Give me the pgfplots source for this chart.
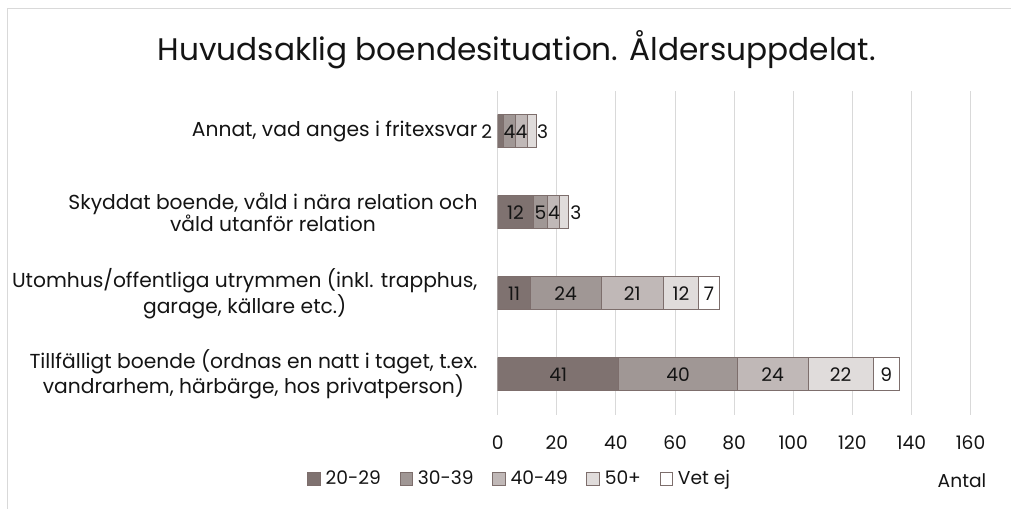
\documentclass[border=0pt]{standalone}
\usepackage{fontspec}
\setmainfont{Poppins}
\usepackage{pgfplots}
\usepackage{pgfplotstable}
\pgfplotsset{compat=1.18}
\definecolor{cA}{RGB}{127,114,112}
\definecolor{cB}{RGB}{160,151,149}
\definecolor{cC}{RGB}{192,184,183}
\definecolor{cD}{RGB}{224,220,219}
\definecolor{cE}{RGB}{255,255,255}
\definecolor{edge}{RGB}{125,110,108}
\definecolor{gridc}{RGB}{217,217,217}
\definecolor{txt}{RGB}{20,20,20}

% values per age group (y: 0 = Tillfälligt ... 3 = Annat)
\pgfplotstableread{
y v
0 41
1 11
2 12
3 2
}\tA
\pgfplotstableread{
y v
0 40
1 24
2 5
3 4
}\tB
\pgfplotstableread{
y v
0 24
1 21
2 4
3 4
}\tC
\pgfplotstableread{
y v
0 22
1 12
2 3
3 3
}\tD
\pgfplotstableread{
y v
0 9
1 7
2 0
3 0
}\tE
% data label positions
\pgfplotstableread{
x y lbl
20.5 0 41
61 0 40
93 0 24
116 0 22
131.5 0 9
5.5 1 11
23 1 24
45.5 1 21
62 1 12
71.5 1 7
6 2 12
14.5 2 5
19 2 4
26.4 2 3
-3.72 3 2
4 3 4
8 3 4
15.2 3 3
}\tL

\newcommand{\lblfont}{\fontsize{14pt}{16.3pt}\selectfont}
\newcommand{\catfont}{\fontsize{15.2pt}{16.5pt}\selectfont}

\begin{document}
\begin{tikzpicture}
\begin{axis}[
  at={(0pt,0pt)}, anchor=south west,
  scale only axis,
  width=354.75pt, height=243pt,
  xbar stacked,
  bar width=24.75pt,
  xmin=0, xmax=160,
  ymin=-0.5, ymax=3.5,
  xtick={0,20,...,160},
  ytick={0,1,2,3},
  yticklabels={
    {Tillfälligt boende (ordnas en natt i taget, t.ex.\\vandrarhem, härbärge, hos privatperson)},
    {Utomhus/offentliga utrymmen (inkl. trapphus,\\garage, källare etc.)},
    {Skyddat boende, våld i nära relation och\\våld utanför relation},
    {Annat, vad anges i fritexsvar}},
  yticklabel style={align=center, anchor=east, inner sep=0pt, xshift=-15pt, font=\catfont, text=txt},
  xticklabel style={anchor=center, inner sep=0pt, yshift=-21pt, font=\lblfont, text=txt},
  /pgf/number format/assume math mode=true,
  xmajorgrids, ymajorgrids=false,
  major grid style={draw=gridc, line width=0.75pt},
  axis line style={draw=none},
  major tick length=0pt,
  tick style={draw=none},
  title={Huvudsaklig boendesituation. Åldersuppdelat.},
  title style={at={(rel axis cs:0.0402,1.104)}, anchor=center, font=\fontsize{23.4pt}{28pt}\selectfont, text=txt},
  legend columns=5,
  legend style={at={(rel axis cs:0.0444,-0.1975)}, anchor=center, draw=none, fill=none, inner sep=0pt, font=\lblfont, text=txt,
    nodes={inner sep=0pt},
    /tikz/every even column/.append style={column sep=14pt},
    /tikz/every odd column/.append style={column sep=3.5pt}},
  legend image code/.code={\draw[#1, line width=0.75pt] (0pt,-4.75pt) rectangle (9.5pt,4.75pt);},
]
\addplot[fill=cA, draw=edge, line width=0.75pt] table[x=v, y=y] {\tA};
\addplot[fill=cB, draw=edge, line width=0.75pt] table[x=v, y=y] {\tB};
\addplot[fill=cC, draw=edge, line width=0.75pt] table[x=v, y=y] {\tC};
\addplot[fill=cD, draw=edge, line width=0.75pt] table[x=v, y=y] {\tD};
\addplot[fill=cE, draw=edge, line width=0.75pt] table[x=v, y=y] {\tE};
\legend{20-29, 30-39, 40-49, 50+, Vet ej}
\end{axis}
\begin{axis}[
  at={(0pt,0pt)}, anchor=south west,
  scale only axis,
  width=354.75pt, height=243pt,
  xmin=0, xmax=160,
  ymin=-0.5, ymax=3.5,
  hide axis, clip=false,
]
\addplot[draw=none, mark=none, only marks,
  point meta=explicit symbolic,
  nodes near coords={\pgfplotspointmeta},
  every node near coord/.append style={anchor=center, inner sep=0pt, font=\lblfont, text=txt}]
  table[x=x, y=y, meta=lbl] {\tL};
\end{axis}
\node[anchor=east, inner sep=0pt, font=\lblfont, text=txt] at (366.75pt,-49.5pt) {Antal};
\draw[gridc, line width=0.75pt] (-367.5pt,-70.5pt) -- (-367.5pt,304.5pt) -- (384.75pt,304.5pt);
\path[use as bounding box] (-373.5pt,-70.5pt) rectangle (384.75pt,311.25pt);
\end{tikzpicture}
\end{document}
